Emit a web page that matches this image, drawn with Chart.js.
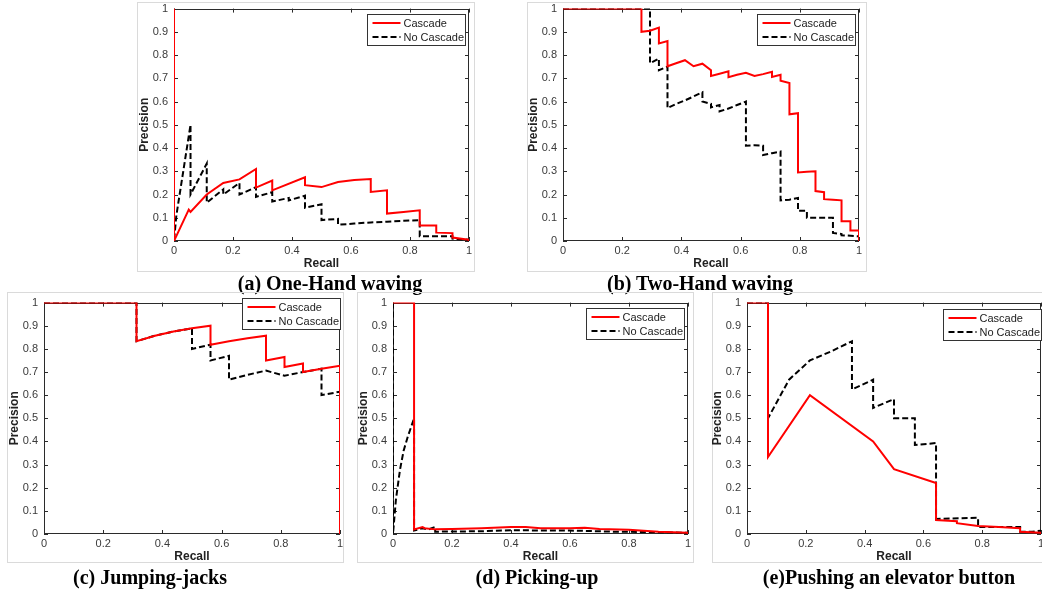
<!DOCTYPE html>
<html>
<head>
<meta charset="utf-8">
<script src="https://cdn.jsdelivr.net/npm/chart.js@4.4.1/dist/chart.umd.min.js"></script>
<style>
  body { margin: 0; background: #fff; }
  #fig { position: relative; width: 1042px; height: 590px; overflow: hidden; background: #fff; }
  .frame { position: absolute; border: 1px solid #dadada; box-sizing: border-box; }
  .panel { position: absolute; }
  .caption {
    position: absolute; white-space: nowrap; color: #000;
    font: bold 20px "Liberation Serif", "Times New Roman", serif;
    transform: translate(-50%, -50%);
  }
</style>
</head>
<body>
<div id="fig"></div>
<script>
const recallTicks = [0, 0.2, 0.4, 0.6, 0.8, 1]
const precisionTicks = [0, 0.1, 0.2, 0.3, 0.4, 0.5, 0.6, 0.7, 0.8, 0.9, 1]
const seriesNames = ["Cascade", "No Cascade"]

// [recall, precision]
const oneHandCascade = [[0,1],[0,0],[0.05,0.135],[0.056,0.125],[0.111,0.2],[0.167,0.25],[0.222,0.265],[0.278,0.31],[0.278,0.23],[0.333,0.26],[0.333,0.218],[0.444,0.274],[0.444,0.24],[0.5,0.232],[0.556,0.254],[0.611,0.262],[0.667,0.267],[0.667,0.211],[0.722,0.218],[0.722,0.118],[0.778,0.125],[0.833,0.132],[0.833,0.067],[0.889,0.067],[0.889,0.036],[0.944,0.034],[0.944,0.015],[1,0.005],[1,0]]
const oneHandNoCascade = [[0,1],[0,0],[0.008,0.11],[0.056,0.5],[0.056,0.2],[0.111,0.333],[0.111,0.165],[0.167,0.222],[0.167,0.2],[0.222,0.25],[0.222,0.2],[0.278,0.232],[0.278,0.19],[0.333,0.21],[0.333,0.17],[0.389,0.185],[0.389,0.175],[0.444,0.195],[0.444,0.143],[0.5,0.158],[0.5,0.09],[0.556,0.095],[0.556,0.07],[0.611,0.075],[0.667,0.08],[0.722,0.083],[0.778,0.087],[0.833,0.09],[0.833,0.02],[0.944,0.02],[0.944,0.01],[1,0.005],[1,0]]

const twoHandCascade = [[0,1],[0.265,1],[0.265,0.9],[0.294,0.905],[0.324,0.918],[0.324,0.85],[0.353,0.86],[0.353,0.752],[0.382,0.765],[0.412,0.778],[0.441,0.752],[0.471,0.763],[0.5,0.735],[0.5,0.71],[0.529,0.72],[0.559,0.73],[0.559,0.705],[0.588,0.715],[0.618,0.724],[0.647,0.71],[0.676,0.718],[0.706,0.728],[0.706,0.706],[0.735,0.715],[0.735,0.69],[0.765,0.68],[0.765,0.545],[0.794,0.55],[0.794,0.295],[0.824,0.298],[0.853,0.3],[0.853,0.215],[0.882,0.21],[0.882,0.18],[0.912,0.178],[0.941,0.175],[0.941,0.085],[0.971,0.085],[0.971,0.045],[1,0.045],[1,0]]
const twoHandNoCascade = [[0,1],[0.294,1],[0.294,0.765],[0.324,0.785],[0.324,0.735],[0.353,0.75],[0.353,0.572],[0.382,0.59],[0.412,0.605],[0.441,0.622],[0.471,0.64],[0.471,0.6],[0.5,0.59],[0.5,0.575],[0.529,0.585],[0.529,0.558],[0.559,0.57],[0.588,0.585],[0.618,0.6],[0.618,0.41],[0.647,0.412],[0.676,0.41],[0.676,0.37],[0.706,0.378],[0.735,0.385],[0.735,0.175],[0.765,0.178],[0.794,0.185],[0.794,0.13],[0.824,0.13],[0.824,0.1],[0.882,0.1],[0.912,0.1],[0.912,0.035],[0.941,0.03],[0.941,0.025],[1,0.02],[1,0]]

const jumpingCascade = [[0,1],[0.3125,1],[0.3125,0.833],[0.375,0.857],[0.4375,0.875],[0.5,0.889],[0.5625,0.9],[0.5625,0.818],[0.625,0.833],[0.6875,0.846],[0.75,0.857],[0.75,0.75],[0.8125,0.765],[0.8125,0.722],[0.875,0.737],[0.875,0.7],[0.9375,0.714],[1,0.727],[1,0]]
const jumpingNoCascade = [[0,1],[0.3125,1],[0.3125,0.833],[0.375,0.857],[0.4375,0.875],[0.5,0.889],[0.5,0.8],[0.5625,0.818],[0.5625,0.75],[0.625,0.77],[0.625,0.667],[0.6875,0.688],[0.75,0.706],[0.8125,0.684],[0.875,0.7],[0.9375,0.714],[0.9375,0.6],[1,0.615],[1,0]]

const pickingCascade = [[0,1],[0.0714,1],[0.0714,0.02],[0.1,0.03],[0.107,0.025],[0.143,0.02],[0.2,0.022],[0.3,0.025],[0.4,0.03],[0.45,0.03],[0.5,0.025],[0.6,0.025],[0.65,0.027],[0.7,0.022],[0.8,0.018],[0.9,0.01],[1,0.005],[1,0]]
const pickingNoCascade = [[0,1],[0,0],[0.01,0.15],[0.024,0.28],[0.036,0.36],[0.05,0.42],[0.0714,0.5],[0.0714,0.015],[0.1,0.025],[0.12,0.02],[0.143,0.03],[0.143,0.01],[0.3,0.012],[0.4,0.016],[0.6,0.015],[0.75,0.01],[0.9,0.008],[1,0.005],[1,0]]

const elevatorCascade = [[0,1],[0.0714,1],[0.0714,0.333],[0.214,0.6],[0.429,0.4],[0.5,0.28],[0.643,0.22],[0.643,0.06],[0.714,0.055],[0.714,0.047],[0.786,0.035],[0.857,0.03],[0.929,0.025],[0.929,0.01],[1,0.005],[1,0]]
const elevatorNoCascade = [[0,1],[0.0714,1],[0.0714,0.5],[0.143,0.667],[0.214,0.75],[0.286,0.789],[0.357,0.833],[0.357,0.625],[0.429,0.667],[0.429,0.545],[0.5,0.583],[0.5,0.5],[0.571,0.5],[0.571,0.385],[0.643,0.393],[0.643,0.065],[0.786,0.07],[0.786,0.03],[0.929,0.03],[0.929,0.01],[0.97,0.01],[1,0.014]]

const panels = [
  { caption: "(a) One-Hand waving", cascade: oneHandCascade, noCascade: oneHandNoCascade,
    plot: [174, 8, 469, 241], frame: [137, 2, 475, 272], capAt: [330, 283], legend: [4, 5] },
  { caption: "(b) Two-Hand waving", cascade: twoHandCascade, noCascade: twoHandNoCascade,
    plot: [563, 8, 859, 241], frame: [527, 2, 867, 272], capAt: [700, 283], legend: [4, 5] },
  { caption: "(c) Jumping-jacks", cascade: jumpingCascade, noCascade: jumpingNoCascade,
    plot: [44, 302, 340, 534], frame: [7, 292, 344, 563], capAt: [150, 577], legend: [0, -5] },
  { caption: "(d) Picking-up", cascade: pickingCascade, noCascade: pickingNoCascade,
    plot: [393, 302, 688, 534], frame: [357, 292, 694, 563], capAt: [537, 577], legend: [4, 5] },
  { caption: "(e)Pushing an elevator button", cascade: elevatorCascade, noCascade: elevatorNoCascade,
    plot: [747, 302, 1041, 534], frame: [712, 292, 1052, 563], capAt: [889, 577], legend: [0, 6] },
]

const tickFont = { family: "'Liberation Sans', Arial, sans-serif", size: 11 }
const labelFont = { family: "'Liberation Sans', Arial, sans-serif", size: 12, weight: 'bold' }
const padL = 44, padT = 12, padR = 8, padB = 34

// axes box with inward ticks + the little legend box, matlab style
const matlabBox = {
  id: 'matlabBox',
  beforeDatasetsDraw(chart) {
    const { ctx, chartArea: a, scales: { x, y } } = chart
    ctx.save()
    ctx.strokeStyle = '#2b2b2b'
    ctx.lineWidth = 1
    ctx.strokeRect(Math.round(a.left) + 0.5, Math.round(a.top) + 0.5, Math.round(a.width) - 1, Math.round(a.height) - 1)
    ctx.beginPath()
    x.ticks.forEach(t => {
      const px = Math.round(x.getPixelForValue(t.value)) + 0.5
      ctx.moveTo(px, a.bottom); ctx.lineTo(px, a.bottom - 4)
      ctx.moveTo(px, a.top); ctx.lineTo(px, a.top + 4)
    })
    y.ticks.forEach(t => {
      const py = Math.round(y.getPixelForValue(t.value)) + 0.5
      ctx.moveTo(a.left, py); ctx.lineTo(a.left + 4, py)
      ctx.moveTo(a.right, py); ctx.lineTo(a.right - 4, py)
    })
    ctx.stroke()
    ctx.restore()
  },
  afterDatasetsDraw(chart, args, opts) {
    const { ctx, chartArea: a } = chart
    const w = 98, h = 31
    const left = Math.round(a.right - opts.right - w) + 0.5
    const top = Math.round(a.top + opts.top) + 0.5
    ctx.save()
    ctx.fillStyle = '#fff'
    ctx.fillRect(left, top, w, h)
    ctx.strokeStyle = '#333'
    ctx.lineWidth = 1
    ctx.strokeRect(left, top, w, h)
    ctx.font = "11px 'Liberation Sans', Arial, sans-serif"
    ctx.textBaseline = 'middle'
    chart.data.datasets.forEach((ds, i) => {
      const ly = top + 8.5 + i * 14
      ctx.strokeStyle = ds.borderColor
      ctx.lineWidth = ds.borderWidth
      ctx.setLineDash(ds.borderDash || [])
      ctx.beginPath()
      ctx.moveTo(left + 5, ly); ctx.lineTo(left + 33, ly)
      ctx.stroke()
      ctx.setLineDash([])
      ctx.fillStyle = '#222'
      ctx.fillText(ds.label, left + 36, ly + 0.5)
    })
    ctx.restore()
  }
}

const fig = document.getElementById("fig")

panels.forEach(p => {
  const [l, t, r, b] = p.plot
  const [fl, ft, fr, fb] = p.frame

  const frame = document.createElement("div")
  frame.className = "frame"
  frame.style.cssText = `left:${fl}px;top:${ft}px;width:${fr - fl}px;height:${fb - ft}px`
  fig.appendChild(frame)

  const holder = document.createElement("div")
  holder.className = "panel"
  const cw = (r - l) + padL + padR, ch = (b - t) + padT + padB
  holder.style.cssText = `left:${l - padL}px;top:${t - padT}px;width:${cw}px;height:${ch}px`
  const canvas = document.createElement("canvas")
  holder.appendChild(canvas)
  fig.appendChild(holder)

  const cap = document.createElement("div")
  cap.className = "caption"
  cap.style.left = p.capAt[0] + "px"
  cap.style.top = p.capAt[1] + "px"
  cap.textContent = p.caption
  fig.appendChild(cap)

  new Chart(canvas, {
    type: 'line',
    data: {
      datasets: [
        { label: seriesNames[0], data: p.cascade, borderColor: '#ff0000', borderWidth: 2, pointRadius: 0, tension: 0, fill: false },
        { label: seriesNames[1], data: p.noCascade, borderColor: '#000000', borderWidth: 2, borderDash: [6, 3], pointRadius: 0, tension: 0, fill: false },
      ]
    },
    options: {
      responsive: true,
      maintainAspectRatio: false,
      animation: false,
      events: [],
      layout: { padding: { top: padT, right: padR, left: 0, bottom: 0 } },
      scales: {
        x: {
          type: 'linear', min: 0, max: 1,
          afterBuildTicks: s => { s.ticks = recallTicks.map(v => ({ value: v })) },
          afterFit: s => { s.height = padB },
          ticks: { font: tickFont, color: '#3a3a3a', padding: 3, maxRotation: 0, autoSkip: false, callback: v => String(+v.toFixed(1)) },
          grid: { display: false, drawTicks: false },
          border: { display: false },
          title: { display: true, text: 'Recall', font: labelFont, color: '#222', padding: { top: 0, bottom: 4 } }
        },
        y: {
          type: 'linear', min: 0, max: 1,
          afterBuildTicks: s => { s.ticks = precisionTicks.map(v => ({ value: v })) },
          afterFit: s => { s.width = padL },
          ticks: { font: tickFont, color: '#3a3a3a', padding: 6, autoSkip: false, callback: v => String(+v.toFixed(1)) },
          grid: { display: false, drawTicks: false },
          border: { display: false },
          title: { display: true, text: 'Precision', font: labelFont, color: '#222', padding: { top: 7, bottom: 0 } }
        }
      },
      plugins: {
        legend: { display: false },
        tooltip: { enabled: false },
        matlabBox: { right: p.legend[0], top: p.legend[1] }
      }
    },
    plugins: [matlabBox]
  })
})
</script>
</body>
</html>
